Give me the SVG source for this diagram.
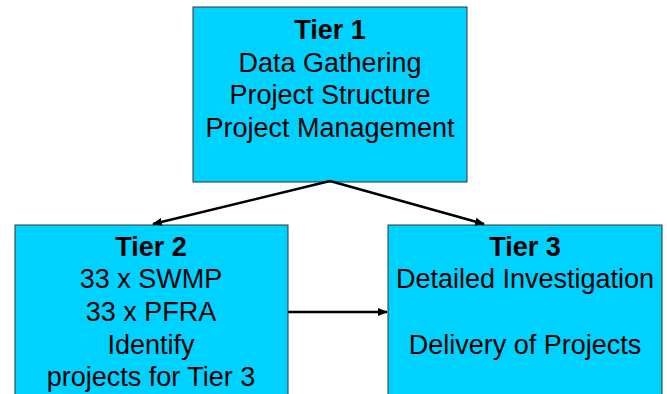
<svg xmlns="http://www.w3.org/2000/svg" width="667" height="394" viewBox="0 0 667 394">
<style>
.box{fill:#00D2FF;stroke:#333;stroke-width:1}
.t{font-family:"Liberation Sans",Arial,sans-serif;font-size:27px;text-anchor:middle;fill:#000}
.b{font-weight:bold}
.c{stroke:#000;stroke-width:2.5;fill:none;marker-end:url(#ah)}
</style>
<defs>
<marker id="ah" viewBox="0 0 10 10" refX="9" refY="5" markerWidth="4" markerHeight="4" orient="auto" markerUnits="strokeWidth">
<path d="M0,1 L10,5 L0,9 z" fill="#000"/>
</marker>
</defs>
<rect width="667" height="394" fill="#fff"/>
<g id="tier1">
<rect class="box" x="193" y="7" width="274" height="175"/>
<text class="t b" x="330" y="39">Tier 1</text>
<text class="t" x="330" y="72">Data Gathering</text>
<text class="t" x="330" y="104">Project Structure</text>
<text class="t" x="330" y="137">Project Management</text>
</g>
<g id="tier2">
<rect class="box" x="15" y="225" width="273" height="175"/>
<text class="t b" x="151" y="256">Tier 2</text>
<text class="t" x="151" y="288">33 x SWMP</text>
<text class="t" x="151" y="321"> 33 x PFRA</text>
<text class="t" x="151" y="354">Identify</text>
<text class="t" x="151" y="386">projects for Tier 3</text>
</g>
<g id="tier3">
<rect class="box" x="388" y="225" width="274" height="175"/>
<text class="t b" x="525" y="256">Tier 3</text>
<text class="t" x="525" y="288">Detailed Investigation</text>
<text class="t" x="525" y="354">Delivery of Projects</text>
</g>
<g id="connectors">
<path class="c" d="M330,181 L153,224"/>
<path class="c" d="M330,181 L484,224"/>
<path class="c" d="M288,312 L387,312"/>
</g>
</svg>
